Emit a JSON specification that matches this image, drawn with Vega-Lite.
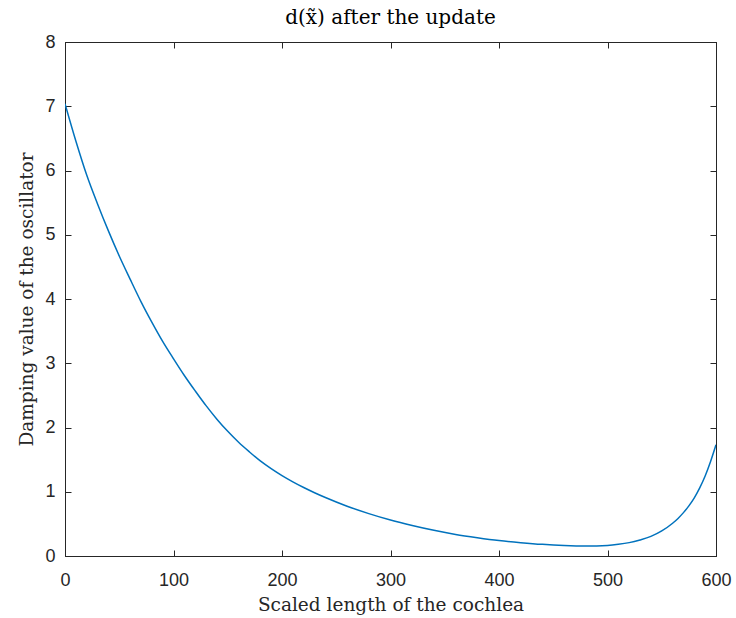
{
  "$schema": "https://vega.github.io/schema/vega-lite/v6.json",
  "autosize": {"type": "none"},
  "padding": {"left": 65, "top": 42, "right": 20, "bottom": 62},
  "width": 651,
  "height": 514,
  "background": "white",
  "title": {
    "text": "d(x̃) after the update",
    "font": "DejaVu Serif",
    "fontSize": 20,
    "fontWeight": "normal",
    "color": "#000000",
    "offset": 5
  },
  "data": {
    "values": [
      {"x": 0, "y": 7.04},
      {"x": 10, "y": 6.46},
      {"x": 20, "y": 5.93},
      {"x": 30, "y": 5.48},
      {"x": 40, "y": 5.06},
      {"x": 50, "y": 4.67},
      {"x": 60, "y": 4.31},
      {"x": 70, "y": 3.96},
      {"x": 80, "y": 3.64},
      {"x": 90, "y": 3.34},
      {"x": 100, "y": 3.07},
      {"x": 110, "y": 2.81},
      {"x": 120, "y": 2.57},
      {"x": 130, "y": 2.34},
      {"x": 140, "y": 2.13},
      {"x": 150, "y": 1.94},
      {"x": 160, "y": 1.77},
      {"x": 170, "y": 1.62},
      {"x": 180, "y": 1.48},
      {"x": 190, "y": 1.36},
      {"x": 200, "y": 1.252},
      {"x": 210, "y": 1.155},
      {"x": 220, "y": 1.066},
      {"x": 230, "y": 0.985},
      {"x": 240, "y": 0.91},
      {"x": 260, "y": 0.775},
      {"x": 280, "y": 0.66},
      {"x": 300, "y": 0.56},
      {"x": 320, "y": 0.475},
      {"x": 340, "y": 0.4},
      {"x": 360, "y": 0.336},
      {"x": 380, "y": 0.285},
      {"x": 400, "y": 0.241},
      {"x": 420, "y": 0.208},
      {"x": 440, "y": 0.181},
      {"x": 460, "y": 0.163},
      {"x": 480, "y": 0.155},
      {"x": 500, "y": 0.165},
      {"x": 510, "y": 0.182},
      {"x": 520, "y": 0.208},
      {"x": 530, "y": 0.25},
      {"x": 540, "y": 0.305},
      {"x": 550, "y": 0.39},
      {"x": 560, "y": 0.51},
      {"x": 565, "y": 0.585},
      {"x": 570, "y": 0.675},
      {"x": 575, "y": 0.78},
      {"x": 580, "y": 0.905},
      {"x": 585, "y": 1.06},
      {"x": 590, "y": 1.245},
      {"x": 595, "y": 1.47},
      {"x": 600, "y": 1.73}
    ]
  },
  "layer": [
    {
      "mark": {"type": "line", "color": "#0072BD", "strokeWidth": 1.5, "interpolate": "monotone", "clip": true},
      "encoding": {
        "x": {
          "field": "x", "type": "quantitative",
          "scale": {"domain": [0, 600], "nice": false, "zero": false},
          "axis": {"orient": "bottom", "values": [0, 100, 200, 300, 400, 500, 600], "title": "Scaled length of the cochlea"}
        },
        "y": {
          "field": "y", "type": "quantitative",
          "scale": {"domain": [0, 8], "nice": false},
          "axis": {"orient": "left", "values": [0, 1, 2, 3, 4, 5, 6, 7, 8], "title": "Damping value of the oscillator"}
        }
      }
    },
    {
      "mark": {"type": "line", "strokeOpacity": 0},
      "encoding": {
        "x": {
          "field": "x", "type": "quantitative",
          "axis": {"orient": "top", "values": [0, 100, 200, 300, 400, 500, 600], "labels": false, "title": null}
        },
        "y": {
          "field": "y", "type": "quantitative",
          "axis": {"orient": "right", "values": [0, 1, 2, 3, 4, 5, 6, 7, 8], "labels": false, "title": null}
        }
      }
    }
  ],
  "resolve": {"axis": {"x": "independent", "y": "independent"}},
  "config": {
    "view": {"stroke": "#262626", "strokeWidth": 1},
    "axis": {
      "grid": false,
      "domainColor": "#262626",
      "domainWidth": 1,
      "tickColor": "#262626",
      "tickSize": -6,
      "tickWidth": 1,
      "labelFont": "Liberation Sans",
      "labelFontSize": 18,
      "labelColor": "#262626",
      "labelFlush": false,
      "labelOverlap": false,
      "titleFont": "DejaVu Serif",
      "titleFontSize": 18.5,
      "titleFontWeight": "normal",
      "titleColor": "#262626"
    },
    "axisBottom": {"labelPadding": 21, "titlePadding": 6},
    "axisLeft": {"labelPadding": 16, "titlePadding": 8}
  }
}
